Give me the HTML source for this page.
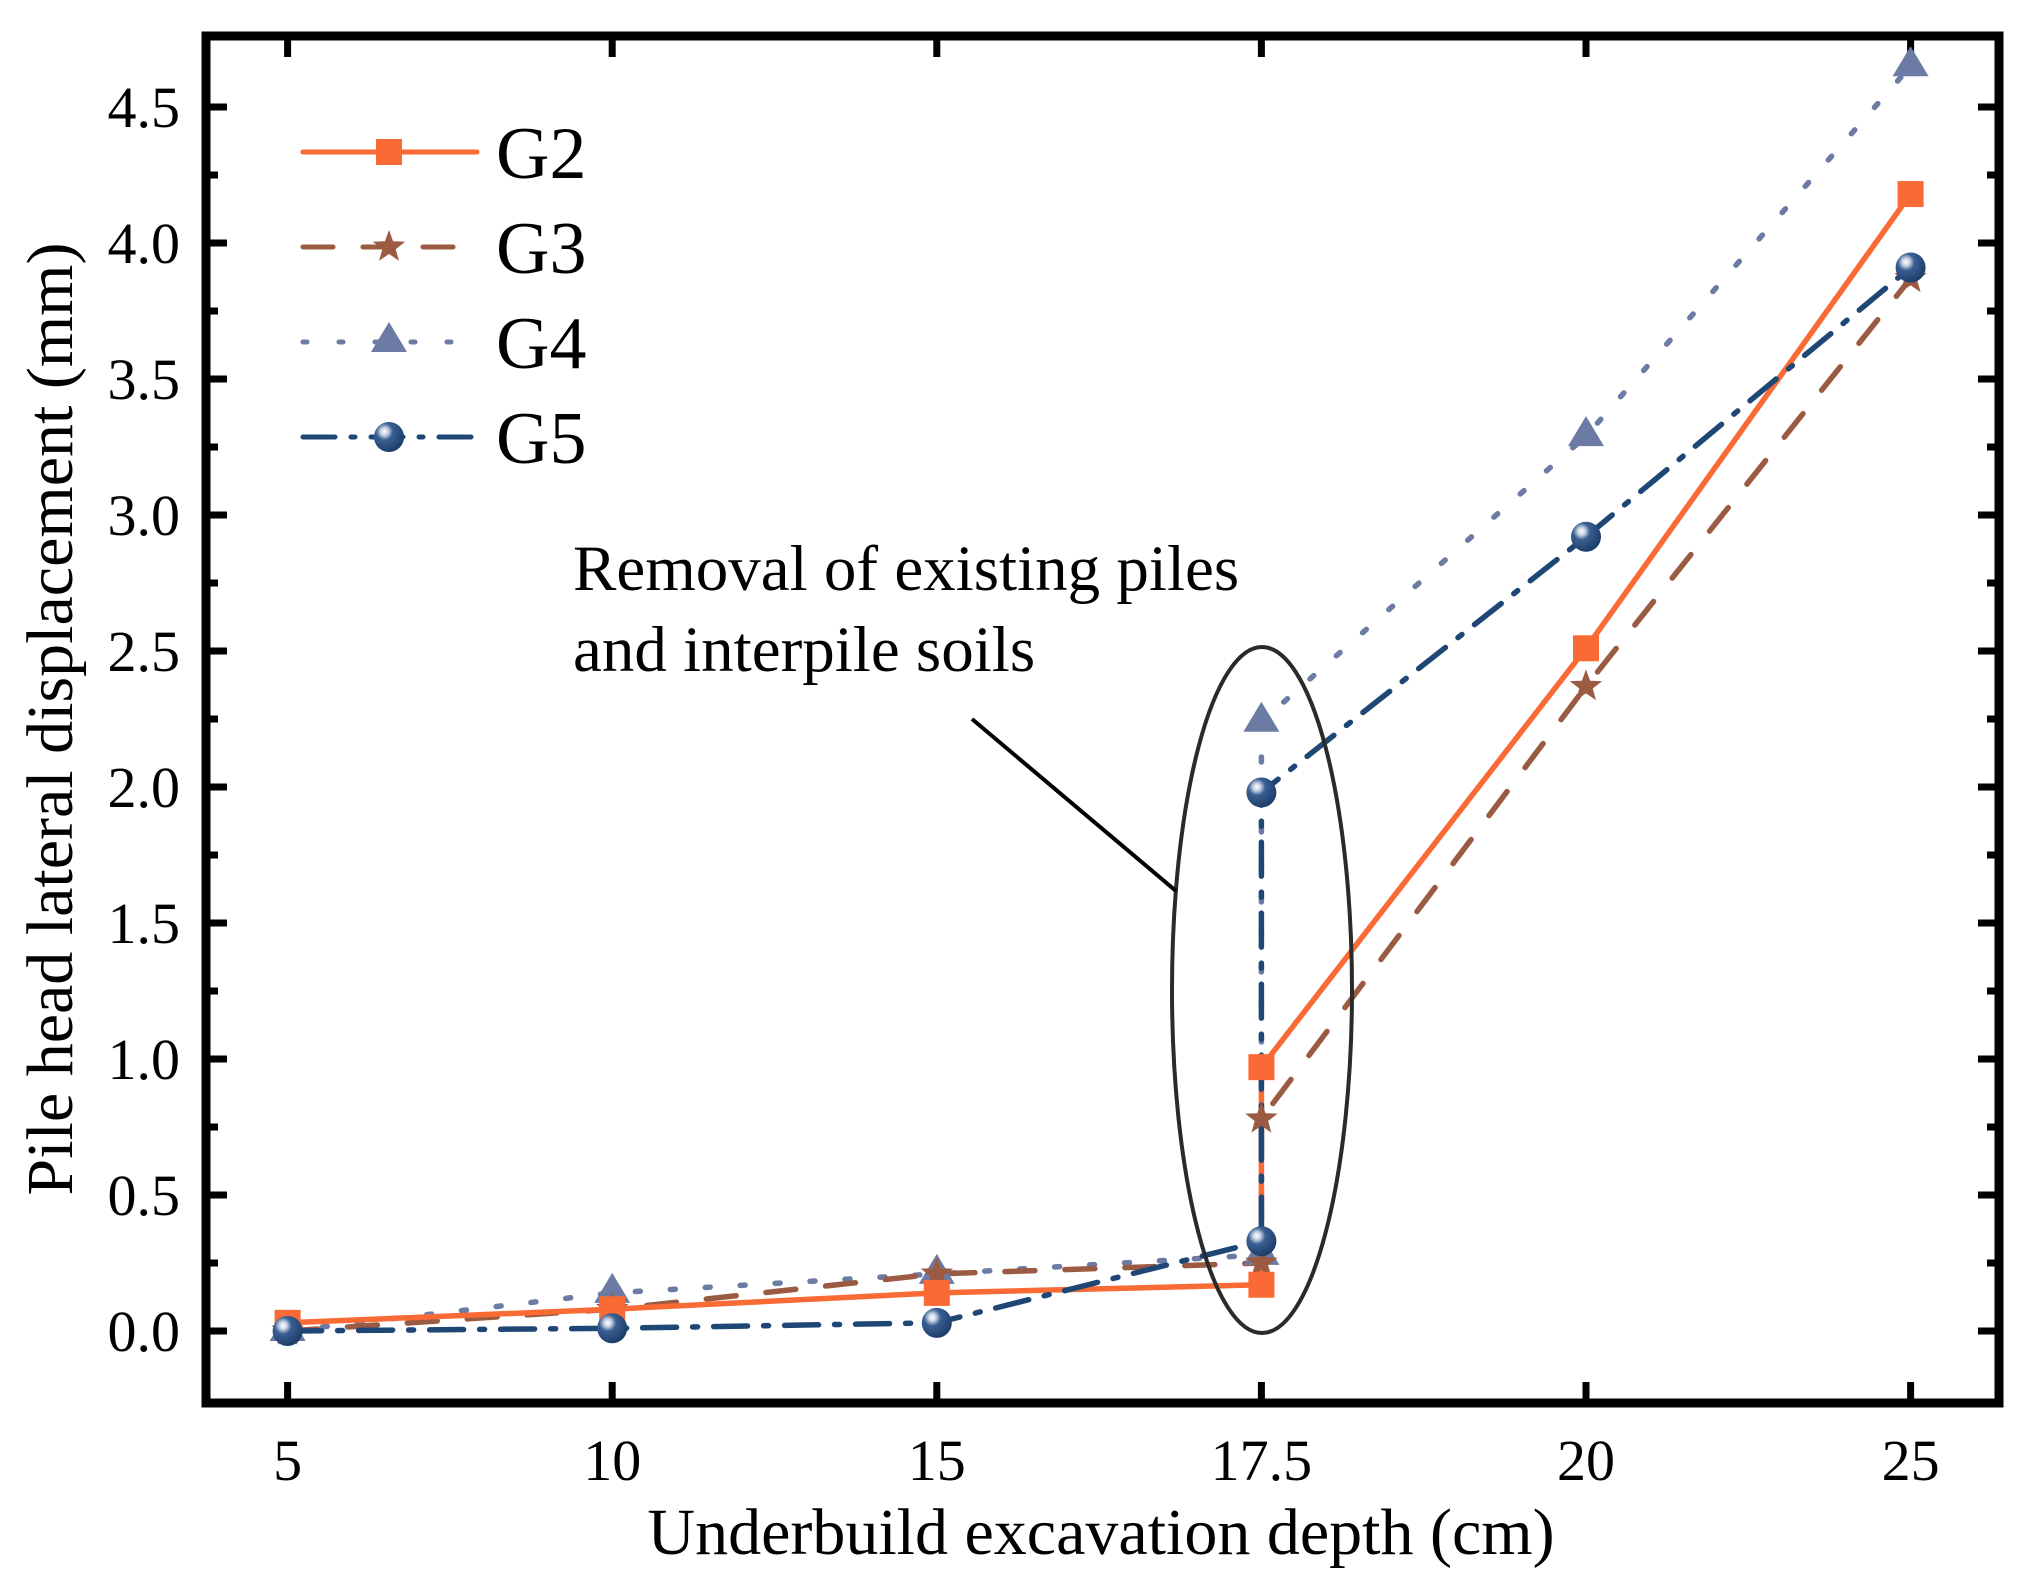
<!DOCTYPE html>
<html><head><meta charset="utf-8"><style>html,body{margin:0;padding:0;background:#fff}svg{display:block}text{font-family:"Liberation Serif",serif;fill:#000}</style></head>
<body>
<svg id="chart" width="2025" height="1589" viewBox="0 0 2025 1589" xmlns="http://www.w3.org/2000/svg">
<defs>
<radialGradient id="ball" cx="0.35" cy="0.32" r="0.7">
<stop offset="0" stop-color="#ffffff"/><stop offset="0.18" stop-color="#c9d3e3"/><stop offset="0.4" stop-color="#3a5f93"/><stop offset="1" stop-color="#1c3d6a"/>
</radialGradient>
</defs>
<g id="axes"></g>
<g id="series"></g>
<g id="legend"></g>
<ellipse cx="1262" cy="990" rx="90" ry="343" fill="none" stroke="#2a2a2a" stroke-width="4"/>
<line x1="972" y1="719" x2="1176" y2="891" stroke="#000" stroke-width="4"/>
<text x="573" y="590" font-size="65">Removal of existing piles</text>
<text x="573" y="671" font-size="65">and interpile soils</text>
<text x="1101" y="1554" font-size="66" text-anchor="middle">Underbuild excavation depth (cm)</text>
<text transform="translate(72,719) rotate(-90)" font-size="66" text-anchor="middle">Pile head lateral displacement (mm)</text>
</svg>
<script>
const categories = ["5","10","15","17.5","20","25"];
const pointCats = [0,1,2,3,3,4,5];
const g2 = [0.03,0.08,0.14,0.17,0.97,2.51,4.18];
const g3 = [0.0,0.08,0.21,0.25,0.78,2.37,3.87];
const g4 = [0.0,0.14,0.21,0.28,2.24,3.29,4.65];
const g5 = [0.0,0.01,0.03,0.33,1.98,2.92,3.91];
const yTicks = [0,0.5,1,1.5,2,2.5,3,3.5,4,4.5];
const yTickLabels = ["0.0","0.5","1.0","1.5","2.0","2.5","3.0","3.5","4.0","4.5"];
const seriesNames = ["G2","G3","G4","G5"];

const NS="http://www.w3.org/2000/svg";
const L=206,R=1999,T=36,B=1403;
const x0=287.6, xStep=324.6;
const y0=1331, yUnit=272;
const xs=i=>x0+i*xStep;
const ys=v=>y0-v*yUnit;
function mk(tag,attrs,parent){const e=document.createElementNS(NS,tag);for(const k in attrs)e.setAttribute(k,attrs[k]);parent.appendChild(e);return e;}
const axes=document.getElementById('axes');
const series=document.getElementById('series');
const legend=document.getElementById('legend');

const fr=mk('rect',{x:L,y:T,width:R-L,height:B-T,fill:'none',stroke:'#000','stroke-width':9},axes);


categories.forEach((c,i)=>{
  const x=xs(i);
  const t1=mk('line',{x1:x,y1:B,x2:x,y2:B-21,stroke:'#000','stroke-width':7},axes);
  
  
  const t2=mk('line',{x1:x,y1:T,x2:x,y2:T+21,stroke:'#000','stroke-width':7},axes);
  
  
  const lb=mk('text',{x:x,y:1480,'font-size':58,'text-anchor':'middle'},axes);
  lb.textContent=c;
  
  
});
yTicks.forEach((v,i)=>{
  const y=ys(v);
  const a=mk('line',{x1:L,y1:y,x2:L+21,y2:y,stroke:'#000','stroke-width':7},axes);
  
  
  const b=mk('line',{x1:R,y1:y,x2:R-21,y2:y,stroke:'#000','stroke-width':7},axes);
  
  
  const ym=ys(v+0.25);
  if(ym>T+5){
    const c=mk('line',{x1:L,y1:ym,x2:L+12,y2:ym,stroke:'#000','stroke-width':7},axes);
    
    
    const d=mk('line',{x1:R,y1:ym,x2:R-12,y2:ym,stroke:'#000','stroke-width':7},axes);
    
    
  }
  const lb=mk('text',{x:180,y:y+20,'font-size':58,'text-anchor':'end'},axes);
  lb.textContent=yTickLabels[i];
  
  
});
const styles=[
 {color:'#F96A35',dash:'',marker:'square'},
 {color:'#9A5B42',dash:'30 30',marker:'star'},
 {color:'#6C7BA3',dash:'5 30',marker:'tri'},
 {color:'#1F4775',dash:'34 16 5 16',marker:'ball'}
];
function marker(kind,x,y,color,parent,s){
  s=s||1;let e;
  if(kind==='square'){e=mk('rect',{x:x-13*s,y:y-13*s,width:26*s,height:26*s,fill:color},parent);}
  else if(kind==='star'){let p=[];for(let k=0;k<10;k++){const r=(k%2?7:17)*s;const a=-Math.PI/2+k*Math.PI/5;p.push((x+r*Math.cos(a)).toFixed(1)+','+(y+r*Math.sin(a)).toFixed(1));}
    e=mk('polygon',{points:p.join(' '),fill:color},parent);}
  else if(kind==='tri'){e=mk('polygon',{points:`${x},${y-20*s} ${x+18*s},${y+10*s} ${x-18*s},${y+10*s}`,fill:color},parent);}
  else {e=mk('circle',{cx:x,cy:y,r:15*s,fill:'url(#ball)'},parent);}
  return e;
}
const data=[g2,g3,g4,g5];
[2,1,0,3].forEach(si=>{
  const st=styles[si];const vals=data[si];
  const pts=vals.map((v,i)=>xs(pointCats[i]).toFixed(1)+','+ys(v).toFixed(1)).join(' ');
  const pl=mk('polyline',{points:pts,fill:'none',stroke:st.color,'stroke-width':5.5,'stroke-linecap':'round','stroke-linejoin':'round'},series);
  if(st.dash)pl.setAttribute('stroke-dasharray',st.dash);
  
  
});
[2,1,0,3].forEach(si=>{
  const st=styles[si];const vals=data[si];
  vals.forEach((v,i)=>{
    const m=marker(st.marker,xs(pointCats[i]),ys(v),st.color,series);
    
    
  });
});
const rows=[152,247,342,437];
seriesNames.forEach((n,i)=>{
  const st=styles[i];
  const ln=mk('line',{x1:303,y1:rows[i],x2:477,y2:rows[i],stroke:st.color,'stroke-width':5,'stroke-linecap':'round'},legend);
  if(i===1)ln.setAttribute('stroke-dasharray','30 30');
  if(i===2)ln.setAttribute('stroke-dasharray','4 32');
  if(i===3)ln.setAttribute('stroke-dasharray','32 16 4 16');
  
  
  const m=marker(st.marker,389,rows[i],st.color,legend);
  
  
  const tx=mk('text',{x:496,y:rows[i]+26,'font-size':74},legend);
  tx.textContent=n;
  
  
});
</script>
</body></html>
